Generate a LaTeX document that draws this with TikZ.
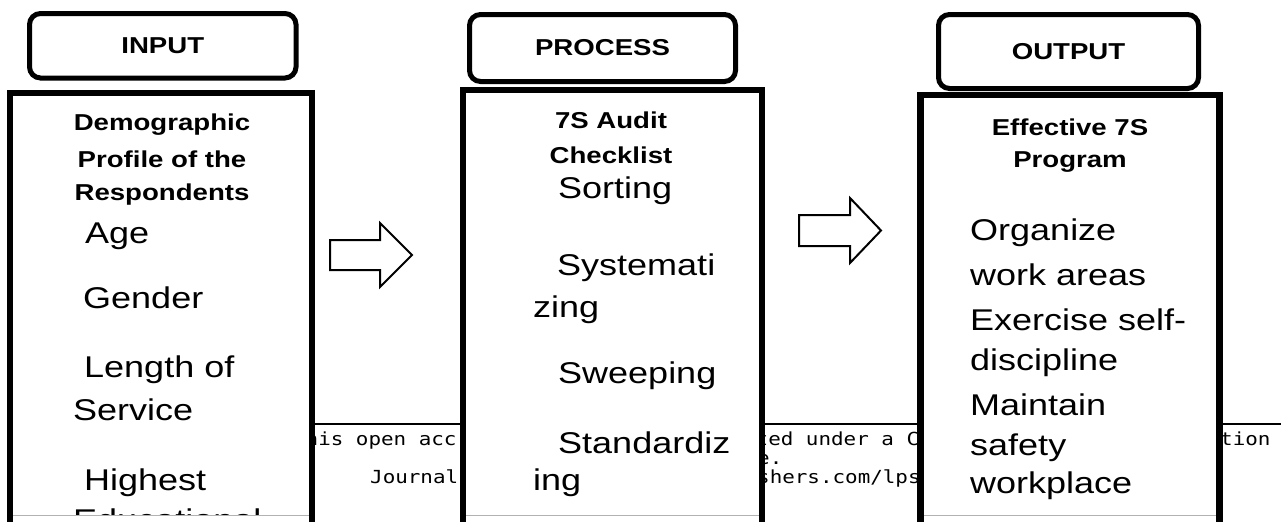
\documentclass[tikz,border=0pt]{standalone}
\usepackage{fontspec}
\setmainfont{Liberation Sans}[FakeStretch=1.2]
\newfontfamily\footmono{DejaVu Sans Mono}[FakeStretch=1.16]
\begin{document}
\begin{tikzpicture}[x=1pt,y=-1pt,
  hdr/.style={draw, line width=5pt, rounded corners=11pt, fill=white, inner sep=0pt,
    font=\fontsize{23}{27}\selectfont\bfseries},
  mainbox/.style={draw, line width=6.5pt, fill=white},
  ttl/.style={font=\fontsize{23}{27}\selectfont\bfseries, inner sep=0pt, anchor=base},
  itm/.style={font=\fontsize{30}{36}\selectfont, inner sep=0pt, anchor=base west},
  foot/.style={font=\footmono\fontsize{18}{19}\selectfont, inner sep=0pt, anchor=base west},
  blockarrow/.style={draw, line width=2pt, fill=white, line join=miter},
  bottomline/.style={draw=gray!60, line width=1pt}]
\useasboundingbox (0,0) rectangle (1286,522);
% footer (behind the boxes)
\draw[line width=1.5pt] (300,424) -- (1281,424);
\node[foot] (f1) at (305.5,445) {his open acc};
\node[foot] (f2) at (755.5,445) {ted under a C};
\node[foot] (f3) at (1220,445) {tion};
\node[foot] (f4) at (757,464) {e.};
\node[foot] (f5) at (370,483) {Journal};
\node[foot] (f6) at (757,483) {shers.com/lps};
% main boxes
\path[fill=white] (10,93) rectangle (312,530);
\draw[mainbox] (10,530) -- (10,93) -- (312,93) -- (312,530);
\path[fill=white] (463,90) rectangle (762,530);
\draw[mainbox] (463,530) -- (463,90) -- (762,90) -- (762,530);
\path[fill=white] (920.5,95) rectangle (1219.5,530);
\draw[mainbox] (920.5,530) -- (920.5,95) -- (1219.5,95) -- (1219.5,530);
\draw[bottomline] (13,515) -- (309,515);
\draw[bottomline] (466,515) -- (759,515);
\draw[bottomline] (924,515) -- (1216,515);
% headers
\node[hdr, minimum width=266.5pt, minimum height=64.5pt] (inhdr) at (162.75,45.75) {INPUT};
\node[hdr, minimum width=266pt, minimum height=67pt] (prochdr) at (602.5,48) {PROCESS};
\node[hdr, minimum width=260pt, minimum height=74pt] (outhdr) at (1068.5,51.5) {OUTPUT};
% texts
\begin{scope}
\clip (0,0) rectangle (1286,514);
\node[ttl] (in1) at (162,130) {Demographic};
\node[ttl] (in2) at (162,167) {Profile of the};
\node[ttl] (in3) at (162,200) {Respondents};
\node[itm] (ia) at (85,243) {Age};
\node[itm] (ib) at (83,308) {Gender};
\node[itm] (ic) at (84,377) {Length of};
\node[itm] (id) at (73,420) {Service};
\node[itm] (ie) at (84,490) {Highest};
\node[itm] (ifx) at (73,530.5) {Educational};
\node[ttl] (pr1) at (611,128) {7S Audit};
\node[ttl] (pr2) at (611,163) {Checklist};
\node[itm] (pa) at (558,198) {Sorting};
\node[itm] (pb) at (557,275) {Systemati};
\node[itm] (pc) at (533,317) {zing};
\node[itm] (pd) at (558,383) {Sweeping};
\node[itm] (pe) at (558,453) {Standardiz};
\node[itm] (pf) at (533,490) {ing};
\node[ttl] (ou1) at (1070,135) {Effective 7S};
\node[ttl] (ou2) at (1070,167) {Program};
\node[itm] (oa) at (970,240) {Organize};
\node[itm] (ob) at (970,285) {work areas};
\node[itm] (oc) at (970,330) {Exercise self-};
\node[itm] (od) at (970,370) {discipline};
\node[itm] (oe) at (970,415) {Maintain};
\node[itm] (of) at (970,455) {safety};
\node[itm] (og) at (970,493) {workplace};
\end{scope}
% block arrows
\draw[blockarrow] (330,240) -- (380,240) -- (380,223) -- (412,255) -- (380,287) -- (380,270) -- (330,270) -- cycle;
\draw[blockarrow] (799,215) -- (850,215) -- (850,198) -- (881,230.5) -- (850,263) -- (850,246) -- (799,246) -- cycle;
\end{tikzpicture}
\end{document}
